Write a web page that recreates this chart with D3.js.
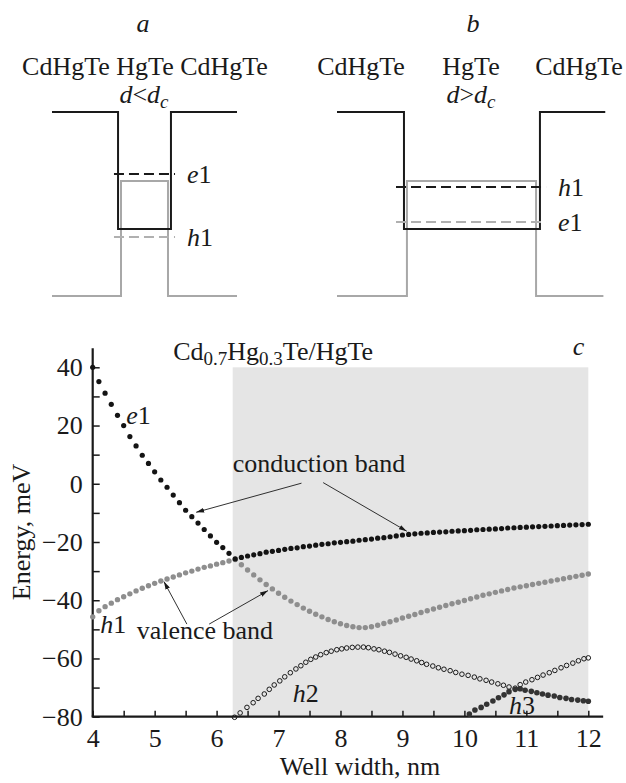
<!DOCTYPE html>
<html>
<head>
<meta charset="utf-8">
<script src="https://cdn.jsdelivr.net/npm/d3@7"></script>
<style>
  body { margin: 0; background: #fff; }
  svg text { font-family: "Liberation Serif", Tinos, "Times New Roman", Times, "DejaVu Serif", serif; fill: #1a1a1a; }
</style>
</head>
<body>
<svg id="chart" width="626" height="783"></svg>
<script>
// ---- panel a / b : schematic band profiles (arbitrary units) ----
const wellA_cond = [[0, 10], [3.57, 10], [3.57, 3.64], [6.43, 3.64], [6.43, 10], [10, 10]];
const wellA_val = [[0, 0], [3.73, 0], [3.73, 6.25], [6.27, 6.25], [6.27, 0], [10, 0]];
const levelsA = [
    { name: "e", idx: "1", x0: 3.35, x1: 6.65, y: 6.63, color: "black" },
    { name: "h", idx: "1", x0: 3.35, x1: 6.65, y: 3.2, color: "gray" }
];
const wellB_cond = [[0, 10], [3.62, 10], [3.62, 3.64], [10.97, 3.64], [10.97, 10], [14.5, 10]];
const wellB_val = [[0, 0], [3.78, 0], [3.78, 6.25], [10.76, 6.25], [10.76, 0], [14.4, 0]];
const levelsB = [
    { name: "h", idx: "1", x0: 3.19, x1: 11.3, y: 5.92, color: "black" },
    { name: "e", idx: "1", x0: 3.19, x1: 11.3, y: 4.02, color: "gray" }
];

// ---- panel c : subband energies vs well width ----
const gridX = [4.0, 4.1, 4.2, 4.3, 4.4, 4.5, 4.6, 4.7, 4.8, 4.9, 5.0, 5.1, 5.2, 5.3, 5.4, 5.5, 5.6, 5.7, 5.8, 5.9,
    6.0, 6.1, 6.2, 6.3, 6.4, 6.5, 6.6, 6.7, 6.8, 6.9, 7.0, 7.1, 7.2, 7.3, 7.4, 7.5, 7.6, 7.7, 7.8, 7.9,
    8.0, 8.1, 8.2, 8.3, 8.4, 8.5, 8.6, 8.7, 8.8, 8.9, 9.0, 9.1, 9.2, 9.3, 9.4, 9.5, 9.6, 9.7, 9.8, 9.9,
    10.0, 10.1, 10.2, 10.3, 10.4, 10.5, 10.6, 10.7, 10.8, 10.9, 11.0, 11.1, 11.2, 11.3, 11.4, 11.5, 11.6, 11.7, 11.8, 11.9, 12.0];
// black dots (e1 then conduction band)
const condE = [40.0, 35.1, 31.1, 27.3, 23.5, 20.0, 16.2, 13.0, 9.8, 7.0, 4.1, 1.3, -1.2, -3.9, -6.5, -9.1, -11.3, -13.5, -15.7, -17.9,
    -20.1, -21.9, -23.9, -25.8, -25.3, -24.8, -24.4, -24.0, -23.5, -23.2, -22.9, -22.5, -22.2, -22.0, -21.6, -21.4, -21.1, -20.8, -20.6, -20.3,
    -20.1, -19.9, -19.7, -19.4, -19.2, -19.0, -18.7, -18.5, -18.2, -17.9, -17.6, -17.4, -17.2, -17.0, -16.9, -16.7, -16.6, -16.5, -16.3, -16.2,
    -16.1, -16.0, -15.8, -15.7, -15.6, -15.5, -15.4, -15.2, -15.1, -15.0, -14.9, -14.8, -14.7, -14.6, -14.5, -14.4, -14.3, -14.2, -14.1, -14.0, -13.9];
// gray dots (h1 then valence band)
const valE = [-45.7, -43.6, -42.2, -41.0, -39.8, -38.8, -37.8, -36.8, -35.9, -35.0, -34.2, -33.4, -32.7, -32.0, -31.3, -30.6, -30.0, -29.3, -28.7, -28.2,
    -27.6, -27.1, -26.5, -26.0, -27.8, -29.6, -31.3, -33.0, -34.6, -36.1, -37.6, -39.0, -40.3, -41.5, -42.7, -43.8, -44.8, -45.7, -46.6, -47.4,
    -48.1, -48.7, -49.1, -49.4, -49.4, -49.1, -48.6, -48.0, -47.4, -46.8, -46.1, -45.5, -44.9, -44.2, -43.6, -43.0, -42.4, -41.8, -41.2, -40.7,
    -40.1, -39.5, -38.9, -38.3, -37.8, -37.3, -36.8, -36.3, -35.8, -35.4, -35.0, -34.6, -34.2, -33.8, -33.4, -33.0, -32.6, -32.2, -31.8, -31.4, -31.0];
// open circles (h2)
const h2Pts = [[6.29, -80.2], [6.38, -78.7], [6.49, -76.8], [6.59, -75.2], [6.67, -73.7], [6.77, -72.2], [6.85, -70.6], [6.93, -69.1],
    [7.02, -67.7], [7.10, -66.3], [7.19, -64.9], [7.28, -63.6], [7.36, -62.5], [7.44, -61.3], [7.52, -60.3], [7.60, -59.5], [7.68, -58.7],
    [7.77, -58.0], [7.85, -57.5], [7.94, -57.0], [8.02, -56.7], [8.10, -56.4], [8.19, -56.2], [8.28, -56.1], [8.37, -56.1], [8.45, -56.3],
    [8.54, -56.7], [8.62, -57.0], [8.71, -57.5], [8.79, -57.9], [8.88, -58.5], [8.97, -59.1], [9.06, -59.6], [9.14, -60.2], [9.23, -60.8],
    [9.31, -61.4], [9.39, -62.0], [9.49, -62.6], [9.58, -63.2], [9.67, -63.7], [9.77, -64.2], [9.86, -64.8], [9.96, -65.4], [10.06, -65.8],
    [10.16, -66.4], [10.25, -67.0], [10.35, -67.5], [10.44, -68.1], [10.54, -68.7], [10.63, -69.2], [10.72, -69.8], [10.82, -70.2],
    [10.90, -69.0], [10.99, -68.1], [11.09, -67.3], [11.18, -66.5], [11.27, -65.7], [11.37, -64.9], [11.46, -64.1], [11.56, -63.2],
    [11.65, -62.4], [11.75, -61.6], [11.84, -60.8], [11.93, -60.1], [12.0, -59.8]];
// dark dots (h3)
const h3Pts = [[10.08, -79.1], [10.17, -77.7], [10.27, -76.8], [10.36, -75.7], [10.46, -74.6], [10.55, -73.5], [10.64, -72.5], [10.72, -71.4],
    [10.82, -70.6], [10.90, -70.4], [10.98, -70.9], [11.08, -71.3], [11.17, -71.8], [11.26, -72.2], [11.35, -72.6], [11.45, -72.9],
    [11.54, -73.4], [11.64, -73.7], [11.73, -74.1], [11.83, -74.3], [11.92, -74.5], [12.0, -74.7]];

const shadeX = [6.26, 12];
const shadeY = [-80, 40];
const yTicks = [-80, -70, -60, -50, -40, -30, -20, -10, 0, 10, 20, 30, 40];
const xTicks = [4, 4.5, 5, 5.5, 6, 6.5, 7, 7.5, 8, 8.5, 9, 9.5, 10, 10.5, 11, 11.5, 12];

const svg = d3.select("#chart");
const black = "#1a1a1a";
const gray = "#a8a8a8";
const fs = 26;

// ---------- top schematics ----------
const yS = d3.scaleLinear().domain([0, 10]).range([296, 112]);
const xA = d3.scaleLinear().domain([0, 10]).range([52, 237]);
const xB = d3.scaleLinear().domain([0, 14.5]).range([337, 605.25]);

function drawWell(xs, cond, val, levels) {
    const line = d3.line().x(d => xs(d[0])).y(d => yS(d[1]));
    svg.append("path").datum(val).attr("d", line)
        .attr("fill", "none").attr("stroke", gray).attr("stroke-width", 2);
    svg.append("path").datum(cond).attr("d", line)
        .attr("fill", "none").attr("stroke", black).attr("stroke-width", 2);
    levels.forEach(l => {
        svg.append("line")
            .attr("x1", xs(l.x0)).attr("x2", xs(l.x1))
            .attr("y1", yS(l.y)).attr("y2", yS(l.y))
            .attr("stroke", l.color === "black" ? black : "#b0b0b0")
            .attr("stroke-width", 2)
            .attr("stroke-dasharray", "10,5");
        const t = svg.append("text")
            .attr("x", xs(l.x1) + 12).attr("y", yS(l.y)).attr("dy", "0.35em")
            .attr("font-size", fs);
        t.append("tspan").attr("font-style", "italic").text(l.name);
        t.append("tspan").text(l.idx);
    });
}
drawWell(xA, wellA_cond, wellA_val, levelsA);
drawWell(xB, wellB_cond, wellB_val, levelsB);

function italic(x, y, s) {
    svg.append("text").attr("x", x).attr("y", y).attr("text-anchor", "middle")
        .attr("font-size", fs).attr("font-style", "italic").text(s);
}
italic(143, 32, "a");
italic(473, 32, "b");

svg.append("text").attr("x", 145).attr("y", 75).attr("text-anchor", "middle")
    .attr("font-size", fs).text("CdHgTe HgTe CdHgTe");
[["CdHgTe", 361], ["HgTe", 471], ["CdHgTe", 579]].forEach(([s, x]) => {
    svg.append("text").attr("x", x).attr("y", 75).attr("text-anchor", "middle")
        .attr("font-size", fs).text(s);
});

function dRel(x, sym) {
    const t = svg.append("text").attr("x", x).attr("y", 103).attr("text-anchor", "middle")
        .attr("font-size", fs);
    t.append("tspan").attr("font-style", "italic").text("d");
    t.append("tspan").text(sym);
    t.append("tspan").attr("font-style", "italic").text("d");
    t.append("tspan").attr("font-style", "italic").attr("font-size", 19).attr("dy", 5).text("c");
}
dRel(144, "<");
dRel(471, ">");

// ---------- panel c ----------
const x = d3.scaleLinear().domain([4, 12]).range([92.7, 588.3]);
const y = d3.scaleLinear().domain([-80, 40]).range([716.7, 367.3]);

svg.append("rect")
    .attr("x", x(shadeX[0])).attr("width", x(shadeX[1]) - x(shadeX[0]))
    .attr("y", y(shadeY[1])).attr("height", y(shadeY[0]) - y(shadeY[1]))
    .attr("fill", "#e5e5e5");

// axes
const yAxis = d3.axisLeft(y).tickValues(yTicks)
    .tickSizeInner(-7).tickSizeOuter(0).tickPadding(10)
    .tickFormat(d => d % 20 === 0 ? d3.format("d")(d) : "");
const gy = svg.append("g").attr("transform", `translate(${x(4)},0)`).call(yAxis);
gy.select(".domain").remove();
gy.selectAll(".tick line").attr("stroke", black).attr("stroke-width", 1.5);
gy.selectAll("text").attr("font-size", fs).attr("fill", black);

const xAxis = d3.axisBottom(x).tickValues(xTicks)
    .tickSizeInner(-6).tickSizeOuter(0).tickPadding(12)
    .tickFormat(d => Number.isInteger(d) ? d : "");
const gx = svg.append("g").attr("transform", `translate(0,${y(-80)})`).call(xAxis);
gx.select(".domain").remove();
gx.selectAll(".tick line").attr("stroke", black).attr("stroke-width", 1.5);
gx.selectAll("text").attr("font-size", fs).attr("fill", black);

svg.append("line").attr("x1", x(4)).attr("x2", x(4)).attr("y1", y(-80)).attr("y2", y(46.5))
    .attr("stroke", black).attr("stroke-width", 2.2);
svg.append("line").attr("x1", x(4) - 1).attr("x2", x(12.24)).attr("y1", y(-80)).attr("y2", y(-80))
    .attr("stroke", black).attr("stroke-width", 2.2);

// dots
const valData = gridX.map((v, i) => [v, valE[i]]);
const condData = gridX.map((v, i) => [v, condE[i]]);

svg.append("g").selectAll("circle").data(h2Pts).join("circle")
    .attr("cx", d => x(d[0])).attr("cy", d => y(d[1])).attr("r", 2.3)
    .attr("fill", "none").attr("stroke", black).attr("stroke-width", 1);
svg.append("g").selectAll("circle").data(h3Pts).join("circle")
    .attr("cx", d => x(d[0])).attr("cy", d => y(d[1])).attr("r", 2.8)
    .attr("fill", "#333");
svg.append("g").selectAll("circle").data(valData).join("circle")
    .attr("cx", d => x(d[0])).attr("cy", d => y(d[1])).attr("r", 2.7)
    .attr("fill", "#8e8e8e");
svg.append("g").selectAll("circle").data(condData).join("circle")
    .attr("cx", d => x(d[0])).attr("cy", d => y(d[1])).attr("r", 2.6)
    .attr("fill", "#141414");

// arrows
svg.append("defs").append("marker")
    .attr("id", "arr").attr("viewBox", "0 0 10 6").attr("refX", 10).attr("refY", 3)
    .attr("markerWidth", 8).attr("markerHeight", 5).attr("markerUnits", "userSpaceOnUse")
    .attr("orient", "auto")
    .append("path").attr("d", "M0,0 L10,3 L0,6 Z").attr("fill", black);

const arrows = [
    [[7.37, 0.2], [5.67, -9.8]],
    [[7.72, 0.4], [9.07, -16.3]],
    [[5.52, -48.2], [5.15, -33.6]],
    [[5.88, -48.2], [6.83, -36.7]]
];
arrows.forEach(([a, b]) => {
    svg.append("line")
        .attr("x1", x(a[0])).attr("y1", y(a[1]))
        .attr("x2", x(b[0])).attr("y2", y(b[1]))
        .attr("stroke", black).attr("stroke-width", 0.9)
        .attr("marker-end", "url(#arr)");
});

// curve labels
function bandLabel(px, py, name, idx) {
    const t = svg.append("text").attr("x", x(px)).attr("y", y(py)).attr("font-size", fs);
    t.append("tspan").attr("font-style", "italic").text(name);
    t.append("tspan").text(idx);
}
bandLabel(4.54, 20.5, "e", "1");
bandLabel(4.12, -51.2, "h", "1");
bandLabel(7.23, -74.9, "h", "2");
bandLabel(10.72, -79.0, "h", "3");

svg.append("text").attr("x", x(6.26)).attr("y", y(4.2)).attr("font-size", fs).text("conduction band");
svg.append("text").attr("x", x(4.71)).attr("y", y(-53.3)).attr("font-size", fs).text("valence band");

// title
const title = svg.append("text").attr("x", x(5.3)).attr("y", 360).attr("font-size", fs);
title.append("tspan").text("Cd");
title.append("tspan").attr("font-size", 19).attr("dy", 5).text("0.7");
title.append("tspan").attr("dy", -5).text("Hg");
title.append("tspan").attr("font-size", 19).attr("dy", 5).text("0.3");
title.append("tspan").attr("dy", -5).text("Te/HgTe");

svg.append("text").attr("x", x(11.75)).attr("y", 355).attr("font-size", fs)
    .attr("font-style", "italic").text("c");

// axis titles
svg.append("text").attr("x", 360).attr("y", 775).attr("text-anchor", "middle")
    .attr("font-size", fs).text("Well width, nm");
svg.append("text").attr("transform", "translate(30,532) rotate(-90)").attr("text-anchor", "middle")
    .attr("font-size", fs).text("Energy, meV");
</script>
</body>
</html>
